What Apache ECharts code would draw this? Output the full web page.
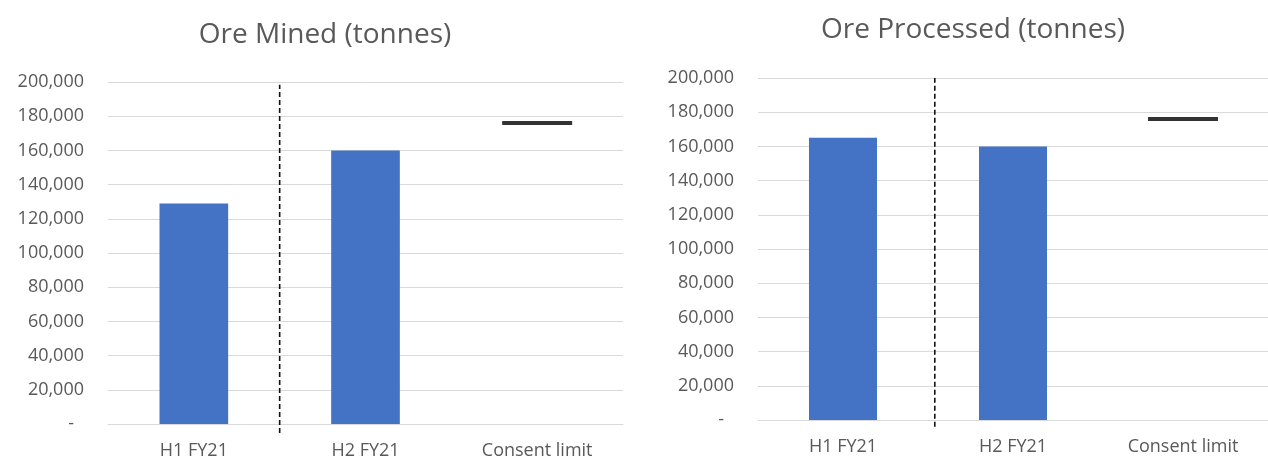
<!DOCTYPE html>
<html>
<head>
<meta charset="utf-8">
<script src="https://cdn.jsdelivr.net/npm/echarts@6/dist/echarts.min.js"></script>
<style>
  html, body { margin: 0; padding: 0; background: #ffffff; }
  #chart { width: 1268px; height: 469px; }
</style>
</head>
<body>
<div id="chart"></div>
<script>
// Half-year ore tonnages against the annual consent limit
const categories = ['H1 FY21', 'H2 FY21', 'Consent limit'];
const titles = ['Ore Mined (tonnes)', 'Ore Processed (tonnes)'];
const oreMined = [129000, 160000, '-'];
const oreProcessed = [165000, 160000, '-'];
const consentMined = ['-', '-', 176000];
const consentProcessed = ['-', '-', 176000];
const yMin = 0;
const yMax = 200000;
const yStep = 20000;
// Dashed dividers: [position along the category band (0..3), tonnes]
const dividerMined = [[1.0, -5300], [1.0, 198400]];
const dividerProcessed = [[1.04, -3900], [1.04, 200000]];

const textColor = '#595959';
const gridColor = '#d9d9d9';
const barColor = '#4472C4';
const fontFamily = '"Open Sans", Lato, sans-serif';

function yLabel(v) {
  if (v === 0) return '{z|-}';
  return v.toLocaleString('en-US');
}

function valueAxis(gridIndex) {
  return {
    type: 'value',
    gridIndex: gridIndex,
    min: yMin,
    max: yMax,
    interval: yStep,
    axisLine: { show: false },
    axisTick: { show: false },
    splitLine: { lineStyle: { color: gridColor, width: 1 } },
    axisLabel: {
      color: textColor,
      fontFamily: fontFamily,
      fontSize: 18,
      margin: 24,
      formatter: yLabel,
      rich: { z: { color: textColor, fontFamily: fontFamily, fontSize: 18, padding: [0, 10, 0, 0] } }
    }
  };
}

function categoryAxis(gridIndex) {
  return {
    type: 'category',
    gridIndex: gridIndex,
    data: categories,
    axisTick: { show: false },
    axisLine: { lineStyle: { color: gridColor, width: 1 } },
    axisLabel: { color: textColor, fontFamily: fontFamily, fontSize: 18, margin: 18 }
  };
}

function dividerAxis(gridIndex) {
  return { type: 'value', gridIndex: gridIndex, min: 0, max: 3, show: false };
}

function barSeries(data, xi, yi) {
  return {
    type: 'bar', xAxisIndex: xi, yAxisIndex: yi, data: data,
    barWidth: '40%', itemStyle: { color: barColor }, silent: true
  };
}

function limitSeries(data, xi, yi) {
  return {
    type: 'scatter', xAxisIndex: xi, yAxisIndex: yi, data: data,
    symbol: 'rect', symbolSize: [70, 4], itemStyle: { color: '#000000' }, silent: true
  };
}

function dividerSeries(data, xi, yi) {
  return {
    type: 'line', xAxisIndex: xi, yAxisIndex: yi, data: data,
    symbol: 'none', clip: false, silent: true,
    lineStyle: { color: '#111111', width: 1.6, type: [5, 3] }
  };
}

const chart = echarts.init(document.getElementById('chart'), null, { renderer: 'canvas' });
chart.setOption({
  animation: false,
  backgroundColor: '#ffffff',
  title: [
    { text: titles[0], left: 320, top: 16, textAlign: 'center',
      textStyle: { color: textColor, fontFamily: fontFamily, fontSize: 28, fontWeight: 'normal' } },
    { text: titles[1], left: 968, top: 11, textAlign: 'center',
      textStyle: { color: textColor, fontFamily: fontFamily, fontSize: 28, fontWeight: 'normal' } }
  ],
  grid: [
    { left: 108, top: 82, width: 515, height: 342 },
    { left: 758, top: 78, width: 520, height: 342 }
  ],
  xAxis: [categoryAxis(0), categoryAxis(1), dividerAxis(0), dividerAxis(1)],
  yAxis: [valueAxis(0), valueAxis(1)],
  series: [
    barSeries(oreMined, 0, 0),
    limitSeries(consentMined, 0, 0),
    dividerSeries(dividerMined, 2, 0),
    barSeries(oreProcessed, 1, 1),
    limitSeries(consentProcessed, 1, 1),
    dividerSeries(dividerProcessed, 3, 1)
  ]
});
</script>
</body>
</html>
